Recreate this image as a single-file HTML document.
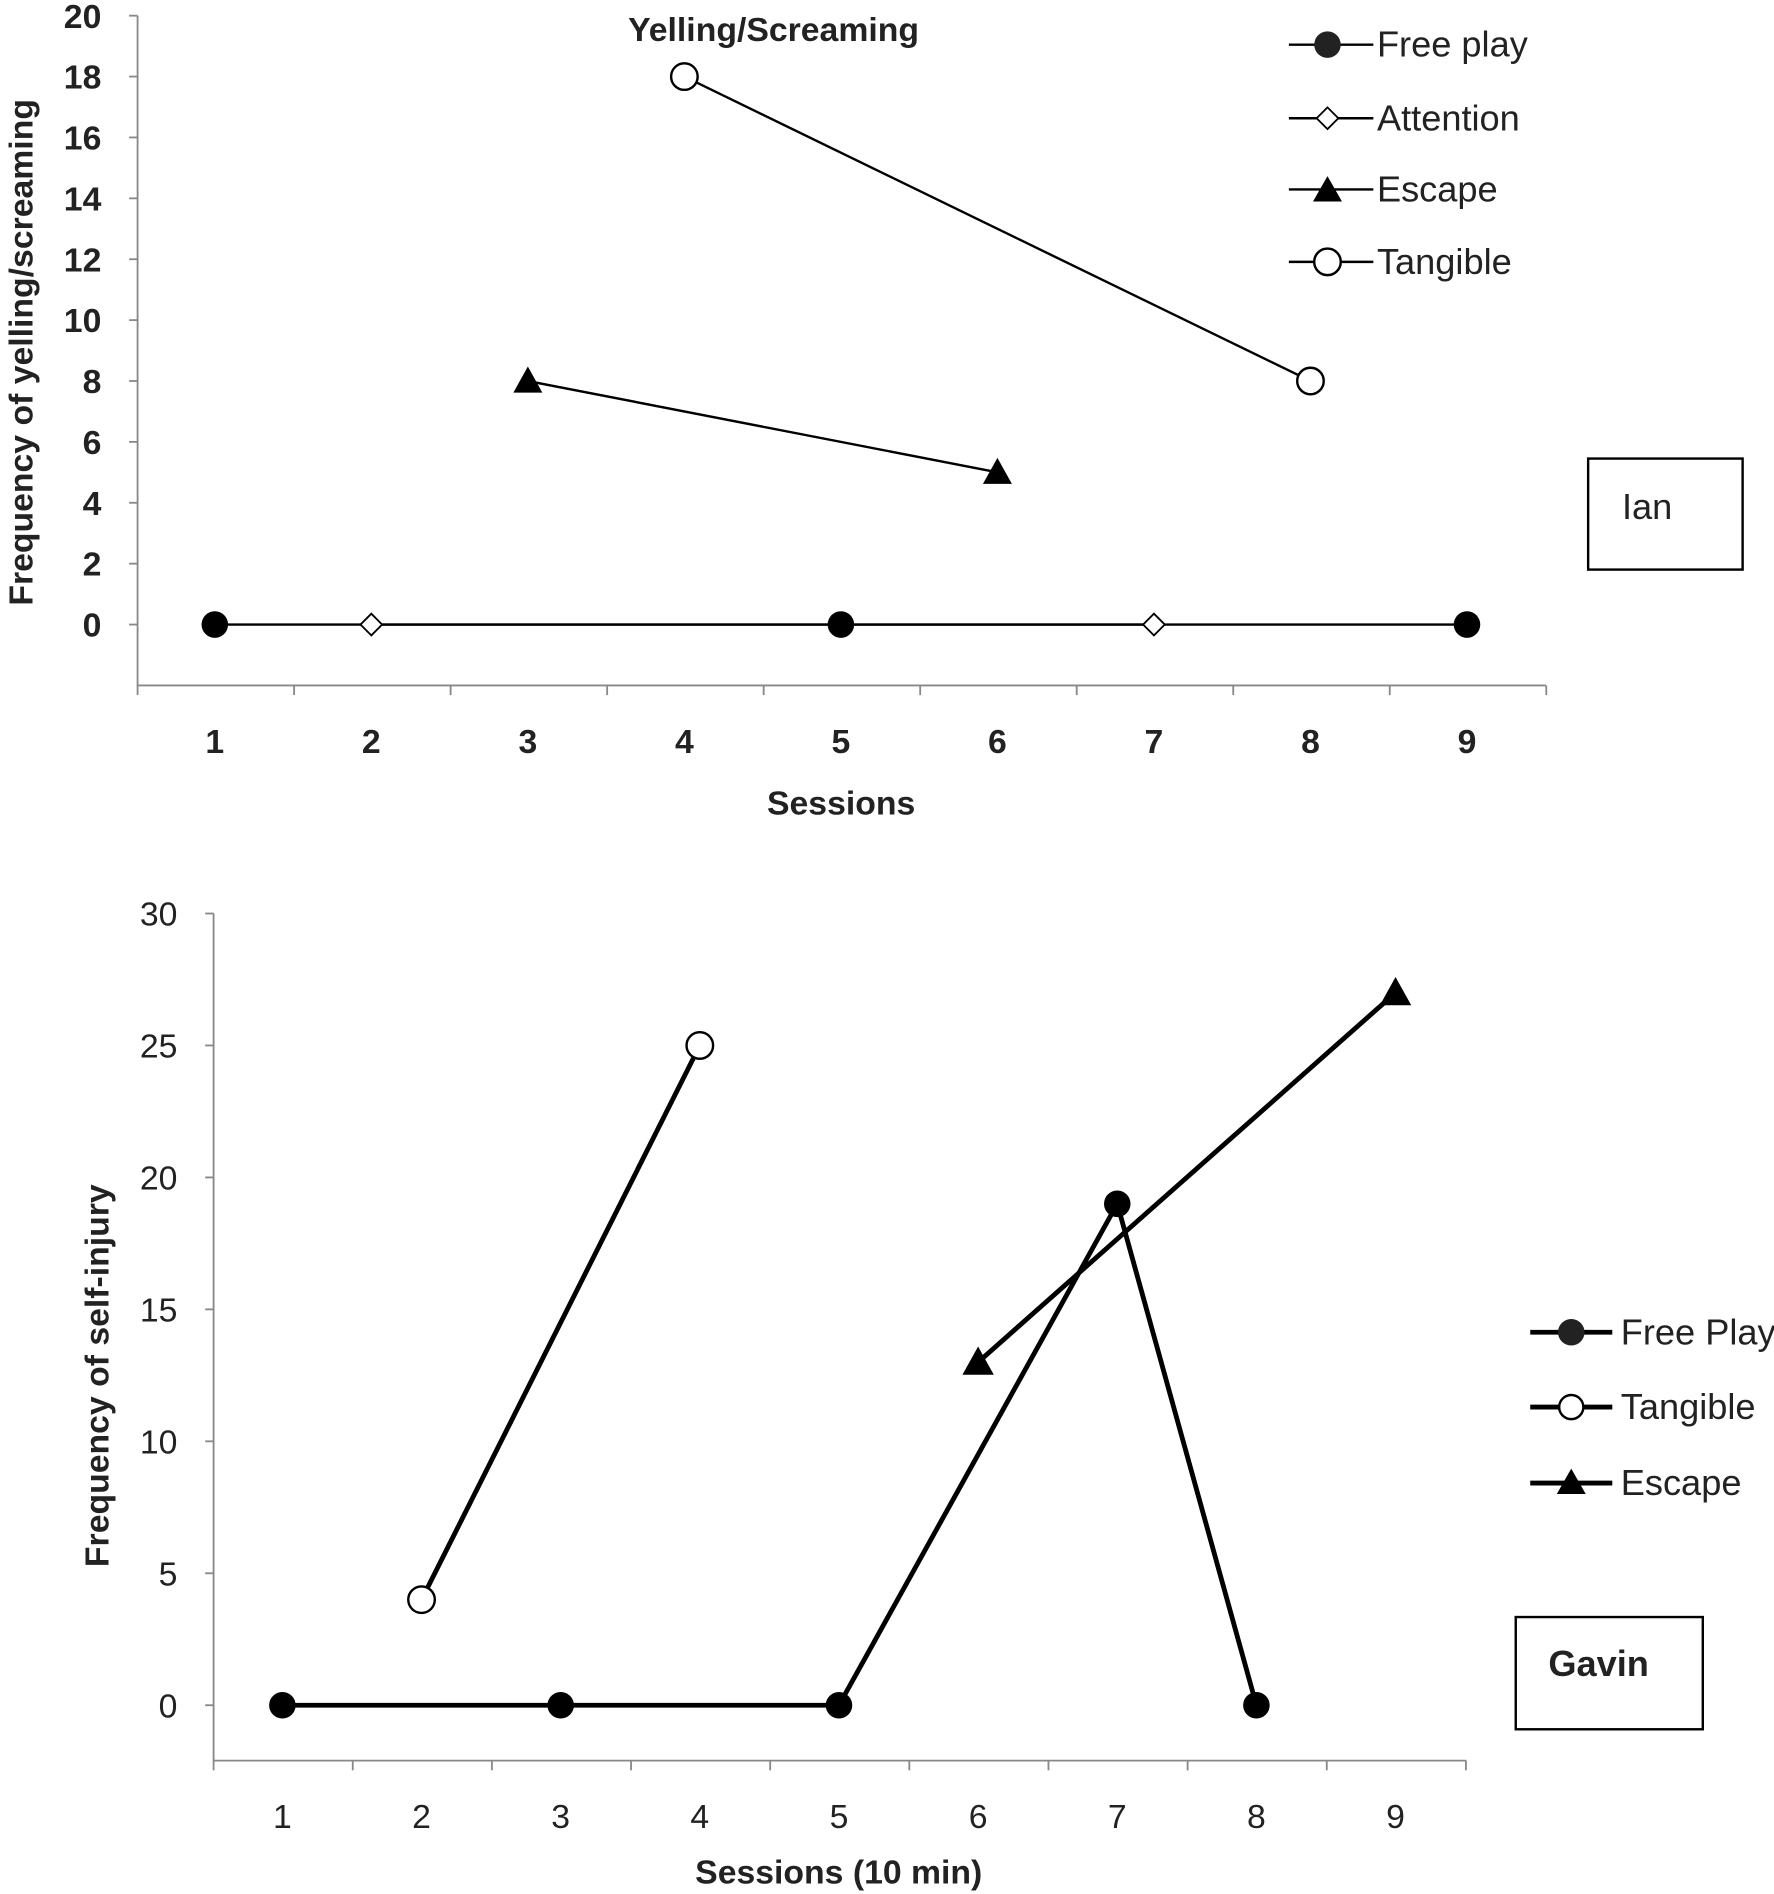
<!DOCTYPE html>
<html><head><meta charset="utf-8"><style>
html,body{margin:0;padding:0;background:#fff;}
svg{display:block;font-family:"Liberation Sans",sans-serif;}
</style></head><body>
<svg id="c" width="1774" height="1894" viewBox="0 0 1470 1569.5" preserveAspectRatio="none">
<g id="topchart"></g>
<g id="botchart"></g>
</svg>
<script>
// Ian chart data
const ianSessions = [1,2,3,4,5,6,7,8,9];
const ianYTicks = [0,2,4,6,8,10,12,14,16,18,20];
const ianFreeX = [1,5,9];
const ianFreeY = [0,0,0];
const ianAttX = [2,7];
const ianAttY = [0,0];
const ianEscX = [3,6];
const ianEscY = [8,5];
const ianTanX = [4,8];
const ianTanY = [18,8];
// Gavin chart data
const gavSessions = [1,2,3,4,5,6,7,8,9];
const gavYTicks = [0,5,10,15,20,25,30];
const gavFreeX = [1,3,5,7,8];
const gavFreeY = [0,0,0,19,0];
const gavTanX = [2,4];
const gavTanY = [4,25];
const gavEscX = [6,9];
const gavEscY = [13,27];

const NS="http://www.w3.org/2000/svg";
function mk(parent,tag,attrs,text){const e=document.createElementNS(NS,tag);for(const k in attrs)e.setAttribute(k,attrs[k]);if(text!==undefined)e.textContent=text;parent.appendChild(e);return e;}
function marker(g,type,x,y,s){
  let e;
  if(type==='dot'){e=mk(g,'circle',{cx:x,cy:y,r:s,fill:'#000'});}
  else if(type==='circle'){e=mk(g,'circle',{cx:x,cy:y,r:s,fill:'#fff',stroke:'#000','stroke-width':2});}
  else if(type==='diamond'){e=mk(g,'polygon',{points:`${x},${y-s} ${x+s},${y} ${x},${y+s} ${x-s},${y}`,fill:'#fff',stroke:'#000','stroke-width':1.5});}
  else {e=mk(g,'polygon',{points:`${x},${y-s} ${x+s},${y+s*0.8} ${x-s},${y+s*0.8}`,fill:'#000'});}
  return e;
}
function chart(g,o){
  const sx=v=>o.x0+(v-1)*o.dx;
  const sy=v=>o.yb-(v-o.ymin)*(o.yb-o.yt)/(o.ymax-o.ymin);
  const ax=mk(g,'path',{d:`M${o.ax},${o.yt} V${o.yb} H${o.axr}`,stroke:'#888',fill:'none','stroke-width':1.5});
  
  
  o.yticks.forEach(t=>{
    mk(g,'line',{x1:o.ax-7,x2:o.ax,y1:sy(t),y2:sy(t),stroke:'#888','stroke-width':1.5});
    const tl=mk(g,'text',{x:o.ax-30,y:sy(t)+10,'text-anchor':'end','font-size':28,'font-weight':o.bold?'bold':'normal',fill:'#222'},t);
    
    
  });
  for(let i=0;i<=o.cats.length;i++){
    const x=o.ax+i*o.dx;
    mk(g,'line',{x1:x,x2:x,y1:o.yb,y2:o.yb+8,stroke:'#888','stroke-width':1.5});
  }
  o.cats.forEach(c=>{
    const tl=mk(g,'text',{x:sx(c),y:o.yb+56,'text-anchor':'middle','font-size':28,'font-weight':o.bold?'bold':'normal',fill:'#222'},c);
    
    
  });
  o.series.forEach(s=>{
    const sg=mk(g,'g',{});
    
    
    const pts=s.x.map((v,i)=>sx(v)+','+sy(s.y[i])).join(' ');
    mk(sg,'polyline',{points:pts,fill:'none',stroke:'#000','stroke-width':o.lw});
    s.x.forEach((v,i)=>{
      const m=marker(sg,s.m,sx(v),sy(s.y[i]),s.size);
      
      
    });
  });
}
const gTop=document.getElementById('topchart');
chart(gTop,{x0:178,dx:129.7,ax:114,axr:1281,yt:13,yb:568,ymin:-2,ymax:20,yticks:ianYTicks,cats:ianSessions,bold:true,lw:2,
 series:[{name:'free-play',x:ianFreeX,y:ianFreeY,m:'dot',size:11},{name:'attention',x:ianAttX,y:ianAttY,m:'diamond',size:9},
 {name:'escape',x:ianEscX,y:ianEscY,m:'tri',size:12},{name:'tangible',x:ianTanX,y:ianTanY,m:'circle',size:11}]});
const gBot=document.getElementById('botchart');
chart(gBot,{x0:234,dx:115.3,ax:177,axr:1215,yt:757,yb:1459,ymin:-2.1,ymax:30,yticks:gavYTicks,cats:gavSessions,bold:false,lw:4,
 series:[{name:'free-play',x:gavFreeX,y:gavFreeY,m:'dot',size:11},{name:'tangible',x:gavTanX,y:gavTanY,m:'circle',size:11},
 {name:'escape',x:gavEscX,y:gavEscY,m:'tri',size:13}]});
</script>
<svg style="position:absolute;left:0;top:0" width="1774" height="1894" viewBox="0 0 1470 1569.5" preserveAspectRatio="none">
<text x="641" y="34" text-anchor="middle" font-size="28" font-weight="bold" fill="#222">Yelling/Screaming</text>
<text transform="translate(27,292) rotate(-90)" text-anchor="middle" font-size="28" font-weight="bold" fill="#222">Frequency of yelling/screaming</text>
<text x="697" y="675" text-anchor="middle" font-size="28" font-weight="bold" fill="#222">Sessions</text>
<g font-size="30" fill="#222">
 <line x1="1068" x2="1138" y1="37" y2="37" stroke="#000" stroke-width="2"/><circle cx="1100" cy="37" r="11"/><text x="1141" y="47">Free play</text>
 <line x1="1068" x2="1138" y1="98" y2="98" stroke="#000" stroke-width="2"/><polygon points="1100,89 1109,98 1100,107 1091,98" fill="#fff" stroke="#000" stroke-width="1.5"/><text x="1141" y="108">Attention</text>
 <line x1="1068" x2="1138" y1="157" y2="157" stroke="#000" stroke-width="2"/><polygon points="1100,146 1112,167 1088,167" fill="#000"/><text x="1141" y="167">Escape</text>
 <line x1="1068" x2="1138" y1="217" y2="217" stroke="#000" stroke-width="2"/><circle cx="1100" cy="217" r="11" fill="#fff" stroke="#000" stroke-width="2"/><text x="1141" y="227">Tangible</text>
</g>
<rect x="1316" y="380" width="128" height="92" fill="#fff" stroke="#000" stroke-width="2"/>
<text x="1344" y="430" font-size="30" fill="#222">Ian</text>
<text transform="translate(90,1140) rotate(-90)" text-anchor="middle" font-size="28" font-weight="bold" fill="#222">Frequency of self-injury</text>
<text x="695" y="1561" text-anchor="middle" font-size="28" font-weight="bold" fill="#222">Sessions (10 min)</text>
<g font-size="30" fill="#222">
 <line x1="1268" x2="1336" y1="1104" y2="1104" stroke="#000" stroke-width="4"/><circle cx="1302" cy="1104" r="11"/><text x="1343" y="1114">Free Play</text>
 <line x1="1268" x2="1336" y1="1166" y2="1166" stroke="#000" stroke-width="4"/><circle cx="1302" cy="1166" r="10" fill="#fff" stroke="#000" stroke-width="2"/><text x="1343" y="1176">Tangible</text>
 <line x1="1268" x2="1336" y1="1229" y2="1229" stroke="#000" stroke-width="4"/><polygon points="1302,1217 1314,1238 1290,1238" fill="#000"/><text x="1343" y="1239">Escape</text>
</g>
<rect x="1256" y="1340" width="155" height="93" fill="#fff" stroke="#000" stroke-width="2"/>
<text x="1283" y="1389" font-size="30" font-weight="bold" fill="#222">Gavin</text>
</svg>
</body></html>
